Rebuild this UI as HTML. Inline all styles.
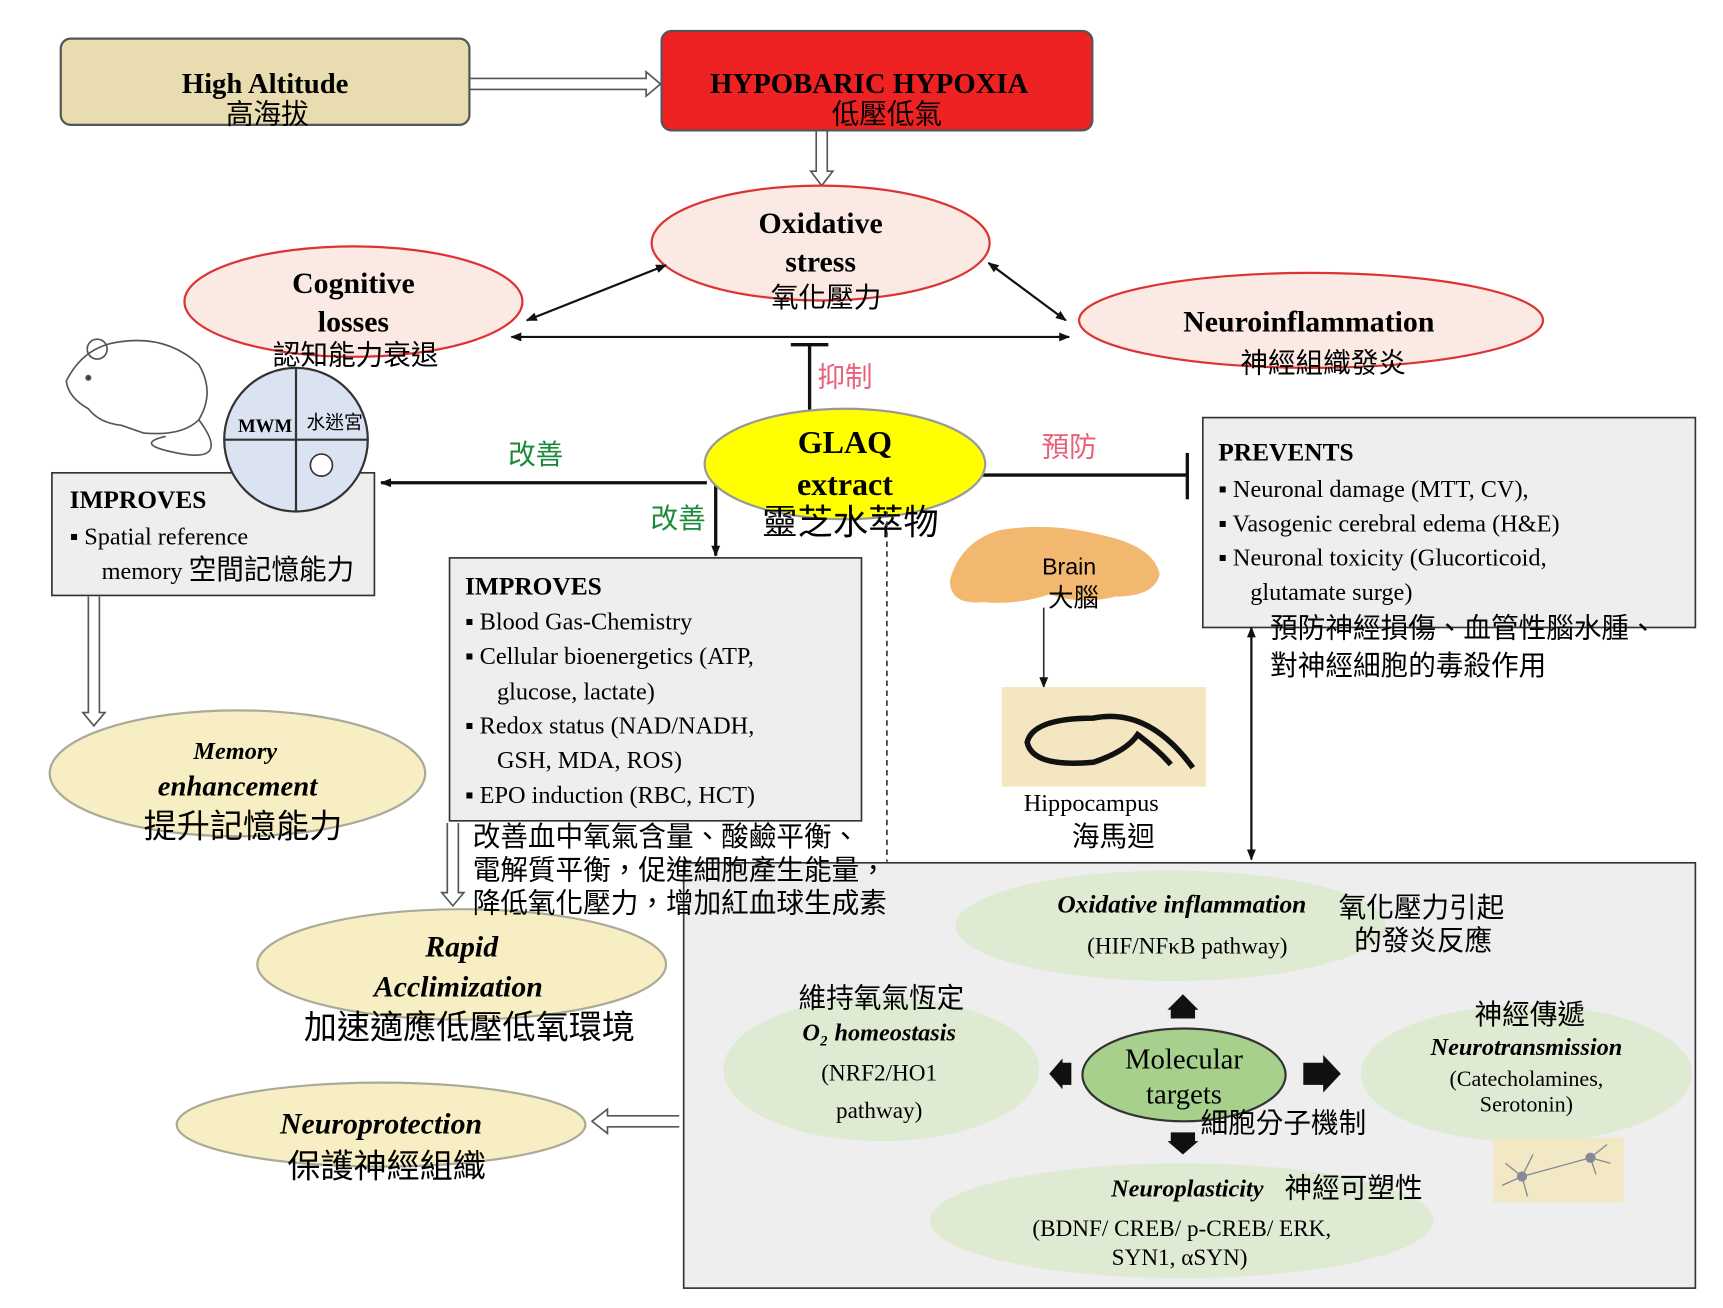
<!DOCTYPE html>
<html><head><meta charset="utf-8"><style>
html,body{margin:0;padding:0;background:#fff;}
svg{display:block}
.s{font-family:"Liberation Serif","Noto Serif CJK SC","Noto Sans CJK TC",serif;}
.c{font-family:"Liberation Sans","Noto Sans CJK TC",sans-serif;}
</style></head><body>
<svg width="1723" height="1308" viewBox="0 0 1560 1184" preserveAspectRatio="none" xmlns="http://www.w3.org/2000/svg">
<defs>
<marker id="a" markerWidth="10" markerHeight="10" refX="9" refY="5" orient="auto-start-reverse" markerUnits="userSpaceOnUse"><path d="M0,1 L10,5 L0,9 z" fill="#111"/></marker>
</defs>
<rect width="1560" height="1184" fill="#fff"/>

<rect x="55" y="35" width="370" height="78" rx="9" fill="#e8dcb0" stroke="#555" stroke-width="2"/>
<text x="240" y="84" class="s" font-size="26" font-weight="bold" text-anchor="middle">High Altitude</text>
<text x="242" y="112" class="c" font-size="25" text-anchor="middle">高海拔</text>
<path d="M426,71 H585 V65 L598,76 L585,87 V81 H426" fill="#fff" stroke="#555" stroke-width="1.5"/>
<rect x="599" y="28" width="390" height="90" rx="9" fill="#ee2222" stroke="#555" stroke-width="2"/>
<text x="787" y="84" class="s" font-size="26" font-weight="bold" text-anchor="middle">HYPOBARIC HYPOXIA</text>
<text x="803" y="112" class="c" font-size="25" text-anchor="middle">低壓低氣</text>
<path d="M739,119 V155 H734 L744,168 L754,155 H749 V119" fill="#fff" stroke="#555" stroke-width="1.5"/>

<ellipse cx="743" cy="220" rx="153" ry="52" fill="#fbeae4" stroke="#d33" stroke-width="2"/>
<text x="743" y="211" class="s" font-size="27" font-weight="bold" text-anchor="middle">Oxidative</text>
<text x="743" y="246" class="s" font-size="27" font-weight="bold" text-anchor="middle">stress</text>
<text x="748" y="278" class="c" font-size="25" text-anchor="middle">氧化壓力</text>
<ellipse cx="320" cy="273" rx="153" ry="50" fill="#fbeae4" stroke="#d33" stroke-width="2"/>
<text x="320" y="265" class="s" font-size="27" font-weight="bold" text-anchor="middle">Cognitive</text>
<text x="320" y="300" class="s" font-size="27" font-weight="bold" text-anchor="middle">losses</text>
<text x="322" y="330" class="c" font-size="25" text-anchor="middle">認知能力衰退</text>
<ellipse cx="1187" cy="290" rx="210" ry="43" fill="#fbeae4" stroke="#d33" stroke-width="2"/>
<text x="1185" y="300" class="s" font-size="27" font-weight="bold" text-anchor="middle">Neuroinflammation</text>
<text x="1198" y="337" class="c" font-size="25" text-anchor="middle">神經組織發炎</text>
<line x1="477" y1="290" x2="603" y2="240" stroke="#111" stroke-width="2" marker-start="url(#a)" marker-end="url(#a)"/>
<line x1="895" y1="238" x2="965" y2="290" stroke="#111" stroke-width="2" marker-start="url(#a)" marker-end="url(#a)"/>
<line x1="463" y1="305" x2="968" y2="305" stroke="#111" stroke-width="2" marker-start="url(#a)" marker-end="url(#a)"/>

<line x1="733" y1="312" x2="733" y2="372" stroke="#111" stroke-width="3"/>
<line x1="716" y1="312" x2="750" y2="312" stroke="#111" stroke-width="3"/>
<text x="765" y="350" class="c" font-size="25" fill="#e8607a" text-anchor="middle">抑制</text>
<line x1="640" y1="437" x2="345" y2="437" stroke="#111" stroke-width="3" marker-end="url(#a)"/>
<text x="485" y="420" class="c" font-size="25" fill="#1a8a3a" text-anchor="middle">改善</text>
<line x1="648" y1="437" x2="648" y2="503" stroke="#111" stroke-width="3" marker-end="url(#a)"/>
<text x="614" y="478" class="c" font-size="25" fill="#1a8a3a" text-anchor="middle">改善</text>
<line x1="880" y1="430" x2="1075" y2="430" stroke="#111" stroke-width="3"/>
<line x1="1075" y1="410" x2="1075" y2="452" stroke="#111" stroke-width="3"/>
<text x="968" y="413" class="c" font-size="25" fill="#e8607a" text-anchor="middle">預防</text>
<ellipse cx="765" cy="420" rx="127" ry="50" fill="#ffff00" stroke="#999" stroke-width="2"/>
<text x="765" y="410" class="s" font-size="29" font-weight="bold" text-anchor="middle">GLAQ</text>
<text x="765" y="448" class="s" font-size="29" font-weight="bold" text-anchor="middle">extract</text>
<text x="770" y="484" class="c" font-size="32" text-anchor="middle">靈芝水萃物</text>
<line x1="803" y1="463" x2="803" y2="780" stroke="#333" stroke-width="1.5" stroke-dasharray="5,4"/>

<g fill="none" stroke="#555" stroke-width="1.5">
<path d="M60,345 Q75,315 105,310 Q150,302 180,330 Q195,355 180,380 Q165,395 130,392 L110,385 Q90,383 80,370 Q62,360 60,345 z" fill="#fff"/>
<path d="M180,380 Q210,420 160,410 Q120,402 150,395"/>
<circle cx="88" cy="316" r="9"/><circle cx="80" cy="342" r="2" fill="#333"/>
</g>

<rect x="47" y="428" width="292" height="111" fill="#eee" stroke="#333" stroke-width="1.5"/>
<circle cx="268" cy="398" r="65" fill="#dbe3f3" stroke="#333" stroke-width="2"/>
<line x1="203" y1="398" x2="333" y2="398" stroke="#333" stroke-width="2"/>
<line x1="268" y1="333" x2="268" y2="463" stroke="#333" stroke-width="2"/>
<circle cx="291" cy="421" r="10" fill="#fff" stroke="#333" stroke-width="1.5"/>
<text x="240" y="391" class="s" font-size="17" font-weight="bold" text-anchor="middle">MWM</text>
<text x="303" y="388" class="c" font-size="17" text-anchor="middle">水迷宮</text>
<text x="63" y="460" class="s" font-size="23" font-weight="bold">IMPROVES</text>
<text x="63" y="493" class="s" font-size="22">▪  Spatial  reference</text>
<text x="92" y="524" class="s" font-size="22">memory <tspan class="c" font-size="25">空間記憶能力</tspan></text>
<path d="M80,540 V645 H75 L85,657 L95,645 H90 V540" fill="#fff" stroke="#555" stroke-width="1.5"/>

<ellipse cx="215" cy="700" rx="170" ry="57" fill="#f7eec3" stroke="#aa9" stroke-width="2"/>
<text x="213" y="687" class="s" font-size="22" font-weight="bold" font-style="italic" text-anchor="middle">Memory</text>
<text x="215" y="720" class="s" font-size="26" font-weight="bold" font-style="italic" text-anchor="middle">enhancement</text>
<text x="220" y="758" class="c" font-size="30" text-anchor="middle">提升記憶能力</text>

<rect x="407" y="505" width="373" height="238" fill="#eee" stroke="#333" stroke-width="1.5"/>
<g class="s" font-size="22">
<text x="421" y="538" font-weight="bold" font-size="23">IMPROVES</text>
<text x="421" y="570">▪  Blood Gas-Chemistry</text>
<text x="421" y="601">▪  Cellular  bioenergetics  (ATP,</text>
<text x="450" y="633">glucose,  lactate)</text>
<text x="421" y="664">▪  Redox status (NAD/NADH,</text>
<text x="450" y="695">GSH, MDA, ROS)</text>
<text x="421" y="727">▪  EPO induction  (RBC, HCT)</text>
</g>
<path d="M405,745 V808 H400 L410,820 L420,808 H415 V745" fill="#fff" stroke="#555" stroke-width="1.5"/>

<ellipse cx="418" cy="873" rx="185" ry="50" fill="#f7eec3" stroke="#aa9" stroke-width="2"/>
<text x="418" y="866" class="s" font-size="27" font-weight="bold" font-style="italic" text-anchor="middle">Rapid</text>
<text x="415" y="902" class="s" font-size="27" font-weight="bold" font-style="italic" text-anchor="middle">Acclimization</text>
<text x="425" y="940" class="c" font-size="30" text-anchor="middle">加速適應低壓低氧環境</text>
<ellipse cx="345" cy="1018" rx="185" ry="38" fill="#f7eec3" stroke="#aa9" stroke-width="2"/>
<text x="345" y="1026" class="s" font-size="27" font-weight="bold" font-style="italic" text-anchor="middle">Neuroprotection</text>
<text x="350" y="1066" class="c" font-size="30" text-anchor="middle">保護神經組織</text>
<path d="M615,1010 H550 V1004 L536,1015 L550,1026 V1020 H615" fill="#fff" stroke="#555" stroke-width="1.5"/>

<path d="M860,525 Q870,490 905,480 Q950,472 1000,485 Q1045,495 1050,520 Q1045,540 1010,540 Q980,548 950,538 Q920,548 890,545 Q860,548 860,525 z" fill="#f2b870"/>
<text x="968" y="520" class="c" font-size="21" text-anchor="middle">Brain</text>
<text x="972" y="549" class="c" font-size="23" text-anchor="middle">大腦</text>
<line x1="945" y1="550" x2="945" y2="622" stroke="#333" stroke-width="1.5" marker-end="url(#a)"/>
<rect x="907" y="622" width="185" height="90" fill="#f3e6c0"/>
<path d="M1080,695 Q1040,640 990,650 Q935,650 930,672 Q935,695 990,690 Q1020,680 1030,665 Q1050,680 1060,692" fill="none" stroke="#111" stroke-width="5"/>
<text x="988" y="734" class="s" font-size="22" text-anchor="middle">Hippocampus</text>
<text x="1008" y="766" class="c" font-size="25" text-anchor="middle">海馬迴</text>

<rect x="1089" y="378" width="446" height="190" fill="#eee" stroke="#333" stroke-width="1.5"/>
<g class="s" font-size="22">
<text x="1103" y="417" font-weight="bold" font-size="23">PREVENTS</text>
<text x="1103" y="450">▪  Neuronal  damage  (MTT,  CV),</text>
<text x="1103" y="481">▪  Vasogenic  cerebral  edema  (H&amp;E)</text>
<text x="1103" y="512">▪  Neuronal  toxicity  (Glucorticoid,</text>
<text x="1132" y="543">glutamate  surge)</text>
</g>
<text x="1150" y="577" class="c" font-size="25">預防神經損傷、血管性腦水腫、</text>
<text x="1150" y="611" class="c" font-size="25">對神經細胞的毒殺作用</text>
<line x1="1133" y1="568" x2="1133" y2="778" stroke="#111" stroke-width="2" marker-start="url(#a)" marker-end="url(#a)"/>

<rect x="619" y="781" width="916" height="385" fill="#eee" stroke="#333" stroke-width="1.5"/>
<g class="c" font-size="25">
<text x="428" y="766">改善血中氧氣含量、酸鹼平衡、</text>
<text x="428" y="796">電解質平衡，促進細胞產生能量，</text>
<text x="428" y="826">降低氧化壓力，增加紅血球生成素</text>
</g>
<ellipse cx="1060" cy="838" rx="195" ry="50" fill="#dfead3"/>
<ellipse cx="798" cy="968" rx="143" ry="65" fill="#dfead3"/>
<ellipse cx="1382" cy="972" rx="150" ry="62" fill="#dfead3"/>
<ellipse cx="1070" cy="1105" rx="228" ry="52" fill="#dfead3"/>
<text x="1070" y="826" class="s" font-size="23" font-weight="bold" font-style="italic" text-anchor="middle">Oxidative inflammation</text>
<text x="1075" y="863" class="s" font-size="21" text-anchor="middle">(HIF/NFκB pathway)</text>
<text x="1212" y="830" class="c" font-size="25">氧化壓力引起</text>
<text x="1226" y="860" class="c" font-size="25">的發炎反應</text>
<text x="798" y="912" class="c" font-size="25" text-anchor="middle">維持氧氣恆定</text>
<text x="796" y="942" class="s" font-size="22" font-weight="bold" font-style="italic" text-anchor="middle">O₂ homeostasis</text>
<text x="796" y="978" class="s" font-size="21" text-anchor="middle">(NRF2/HO1</text>
<text x="796" y="1012" class="s" font-size="21" text-anchor="middle">pathway)</text>
<text x="1385" y="927" class="c" font-size="25" text-anchor="middle">神經傳遞</text>
<text x="1382" y="955" class="s" font-size="22" font-weight="bold" font-style="italic" text-anchor="middle">Neurotransmission</text>
<text x="1382" y="983" class="s" font-size="20" text-anchor="middle">(Catecholamines,</text>
<text x="1382" y="1006" class="s" font-size="20" text-anchor="middle">Serotonin)</text>
<text x="1075" y="1083" class="s" font-size="22" font-weight="bold" font-style="italic" text-anchor="middle">Neuroplasticity</text>
<text x="1163" y="1084" class="c" font-size="25">神經可塑性</text>
<text x="1070" y="1119" class="s" font-size="21" text-anchor="middle">(BDNF/ CREB/ p-CREB/ ERK,</text>
<text x="1068" y="1145" class="s" font-size="21" text-anchor="middle">SYN1, αSYN)</text>
<ellipse cx="1072" cy="973" rx="92" ry="42" fill="#a7d08c" stroke="#333" stroke-width="2"/>
<text x="1072" y="967" class="s" font-size="26" text-anchor="middle">Molecular</text>
<text x="1072" y="999" class="s" font-size="26" text-anchor="middle">targets</text>
<text x="1162" y="1025" class="c" font-size="25" text-anchor="middle">細胞分子機制</text>
<path d="M1060,922 V914 H1057 L1071,900 L1085,914 H1082 V922 z" fill="#111"/>
<path d="M970,962 H962 V958 L950,972 L962,986 V982 H970 z" fill="#111"/>
<path d="M1180,962 H1198 V955 L1214,972 L1198,989 V982 H1180 z" fill="#111"/>
<path d="M1060,1025 V1033 H1057 L1071,1045 L1085,1033 H1082 V1025 z" fill="#111"/>
<rect x="1352" y="1030" width="118" height="58" fill="#f2e8c4"/>
<g stroke="#889" stroke-width="1.2" fill="none">
<path d="M1378,1065 L1440,1048 M1378,1065 l-15,-12 M1378,1065 l-18,8 M1378,1065 l5,18 M1378,1065 l10,-20 M1440,1048 l15,-12 M1440,1048 l18,5 M1440,1048 l5,15"/>
<circle cx="1378" cy="1065" r="4" fill="#889"/><circle cx="1440" cy="1048" r="4" fill="#889"/>
</g>
</svg>
</body></html>
